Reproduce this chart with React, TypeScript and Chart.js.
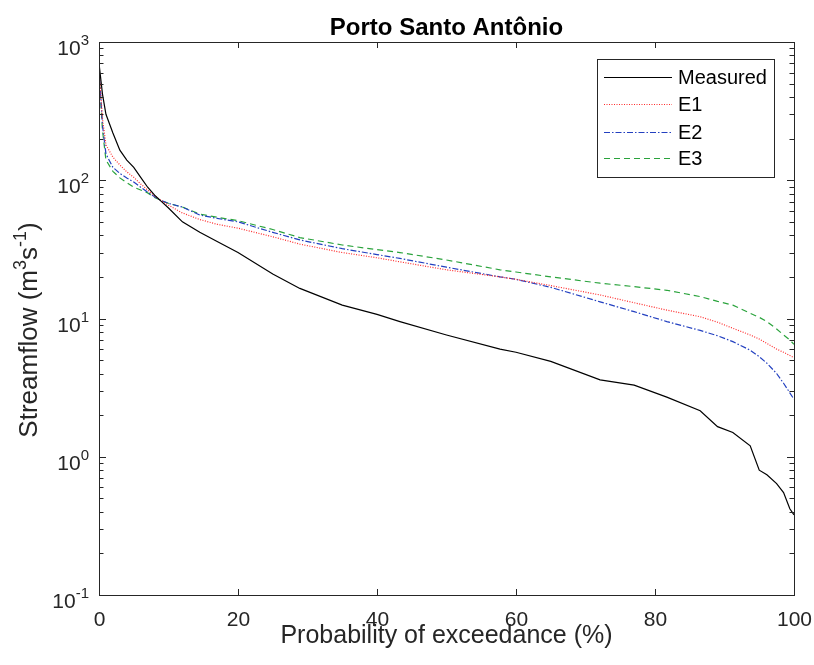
import React, { useEffect, useRef } from "react";
import { Chart, registerables } from "chart.js";

Chart.register(...registerables);

const exceedance = [0, 0.5, 1, 2, 3, 4, 5, 6, 7, 8, 9, 10, 12, 14.5, 17, 20, 25, 28.9, 35, 40, 43.3, 50, 57.7, 60, 65, 72.1, 77, 81.7, 86.5, 89, 91.2, 93.7, 95, 96.1, 97.5, 98.5, 99.4, 100];

const measured = [700, 420, 300, 220, 165, 140, 124, 105, 89, 78, 70, 63, 50, 42, 36, 30, 21, 16.5, 12.5, 10.7, 9.5, 7.6, 6.0, 5.7, 4.9, 3.6, 3.3, 2.7, 2.15, 1.65, 1.5, 1.2, 0.8, 0.74, 0.64, 0.55, 0.42, 0.38];
const e1 = [650, 280, 180, 147, 129, 115, 105, 94, 85, 77, 71, 66, 58, 52, 48, 45, 39, 34.5, 30, 27.5, 25.7, 22.5, 20, 19.2, 17.3, 14.8, 13, 11.5, 10.3, 9.4, 8.5, 7.6, 7.1, 6.6, 6.0, 5.7, 5.4, 5.2];
const e2 = [650, 250, 155, 124, 112, 104, 97, 89, 82, 76, 71, 68, 64, 56, 53, 50, 42, 37, 32, 29, 27.2, 23.5, 20, 19.2, 16.8, 13.2, 11.2, 9.5, 8.2, 7.5, 6.8, 5.9, 5.3, 4.75, 4.0, 3.4, 2.9, 2.6];
const e3 = [600, 230, 140, 116, 104, 96, 89, 85, 81, 75, 71, 68, 64, 57, 54, 51, 44, 38.5, 34, 31.5, 30, 26.5, 22.5, 21.7, 20, 18, 17, 16, 14.4, 13.3, 12.5, 10.9, 10.2, 9.5, 8.4, 7.6, 7, 6.5];

const seriesNames = ["Measured", "E1", "E2", "E3"];
const xTicks = [0, 20, 40, 60, 80, 100];
const yExponents = [-1, 0, 1, 2, 3];
const titleText = "Porto Santo Antônio";
const xTitle = "Probability of exceedance (%)";

const FONT = '"Liberation Sans", Arial, sans-serif';
const AXIS = "#262626";

const toPoints = (ys: number[]) => ys.map((v, i) => ({ x: exceedance[i], y: v }));

const decorPlugin = {
  id: "decor",
  afterDraw(chart: any) {
    const { ctx, chartArea, scales } = chart;
    const { left, right, top, bottom } = chartArea;
    const xs = scales.x;
    const ys = scales.y;
    ctx.save();
    // frame
    ctx.strokeStyle = AXIS;
    ctx.lineWidth = 1;
    ctx.strokeRect(Math.round(left) + 0.5, Math.round(top) + 0.5, Math.round(right - left), Math.round(bottom - top));

    // x ticks
    ctx.fillStyle = "#262626";
    ctx.font = `21px ${FONT}`;
    ctx.textAlign = "center";
    ctx.textBaseline = "middle";
    for (const v of xTicks) {
      const px = Math.round(xs.getPixelForValue(v)) + 0.5;
      ctx.beginPath();
      ctx.moveTo(px, bottom);
      ctx.lineTo(px, bottom - 6);
      ctx.moveTo(px, top);
      ctx.lineTo(px, top + 6);
      ctx.stroke();
      ctx.fillText(String(v), px, 620);
    }

    // y ticks (log, with minor)
    for (const e of yExponents) {
      const maxM = e === yExponents[yExponents.length - 1] ? 1 : 9;
      for (let m = 1; m <= maxM; m++) {
        const val = m * Math.pow(10, e);
        const py = Math.round(ys.getPixelForValue(val)) + 0.5;
        const len = m === 1 ? 7 : 4.5;
        ctx.beginPath();
        ctx.moveTo(left, py);
        ctx.lineTo(left + len, py);
        ctx.moveTo(right, py);
        ctx.lineTo(right - len, py);
        ctx.stroke();
      }
      const py = ys.getPixelForValue(Math.pow(10, e));
      ctx.textAlign = "left";
      ctx.textBaseline = "alphabetic";
      ctx.font = `21px ${FONT}`;
      const baseW = ctx.measureText("10").width;
      ctx.font = `15px ${FONT}`;
      const sup = String(e);
      const supW = ctx.measureText(sup).width;
      const endX = 89;
      const bx = endX - supW - baseW;
      ctx.font = `21px ${FONT}`;
      ctx.fillText("10", bx, py + 13);
      ctx.font = `15px ${FONT}`;
      ctx.fillText(sup, bx + baseW, py + 3);
    }

    // title
    ctx.fillStyle = "#000";
    ctx.font = `bold 24px ${FONT}`;
    ctx.textAlign = "center";
    ctx.textBaseline = "alphabetic";
    ctx.fillText(titleText, (left + right) / 2, 35);

    // x title
    ctx.fillStyle = "#262626";
    ctx.font = `25px ${FONT}`;
    ctx.fillText(xTitle, (left + right) / 2, 643);

    // y title with superscripts
    const segs: [string, boolean][] = [["Streamflow (m", false], ["3", true], ["s", false], ["-1", true], [")", false]];
    const big = `26px ${FONT}`;
    const small = `18px ${FONT}`;
    const widths = segs.map(([t, s]) => {
      ctx.font = s ? small : big;
      return ctx.measureText(t).width;
    });
    const total = widths.reduce((a, b) => a + b, 0);
    ctx.save();
    ctx.translate(37, 330);
    ctx.rotate(-Math.PI / 2);
    ctx.textAlign = "left";
    let cx = -total / 2;
    segs.forEach(([t, s], i) => {
      ctx.font = s ? small : big;
      ctx.fillText(t, cx, s ? -11 : 0);
      cx += widths[i];
    });
    ctx.restore();

    // legend
    const lx = 597.5, ly = 59.5, lw = 177, lh = 118;
    ctx.fillStyle = "#fff";
    ctx.fillRect(lx, ly, lw, lh);
    ctx.strokeStyle = AXIS;
    ctx.lineWidth = 1;
    ctx.setLineDash([]);
    ctx.strokeRect(lx, ly, lw, lh);
    const rows = [77, 104, 132, 158];
    chart.data.datasets.forEach((ds: any, i: number) => {
      const ry = rows[i] + 0.5;
      ctx.strokeStyle = ds.borderColor;
      ctx.lineWidth = ds.borderWidth;
      ctx.setLineDash(ds.borderDash || []);
      ctx.beginPath();
      ctx.moveTo(604, ry);
      ctx.lineTo(672, ry);
      ctx.stroke();
      ctx.setLineDash([]);
      ctx.fillStyle = "#000";
      ctx.font = `20px ${FONT}`;
      ctx.textAlign = "left";
      ctx.textBaseline = "middle";
      ctx.fillText(ds.label, 678, rows[i] + 1);
    });
    ctx.restore();
  },
};

export default function App() {
  const ref = useRef<HTMLCanvasElement | null>(null);
  useEffect(() => {
    document.body.style.margin = "0";
    const canvas = ref.current;
    if (!canvas) return;
    const chart = new Chart(canvas, {
      type: "line",
      data: {
        datasets: [
          { label: seriesNames[0], data: toPoints(measured), borderColor: "#000000", borderWidth: 1.2, pointRadius: 0, fill: false, tension: 0 },
          { label: seriesNames[1], data: toPoints(e1), borderColor: "#ff2a2a", borderWidth: 1.2, borderDash: [1, 1.5], pointRadius: 0, fill: false, tension: 0 },
          { label: seriesNames[2], data: toPoints(e2), borderColor: "#2340c0", borderWidth: 1.2, borderDash: [6, 2, 1.5, 2], pointRadius: 0, fill: false, tension: 0 },
          { label: seriesNames[3], data: toPoints(e3), borderColor: "#2aa33c", borderWidth: 1.2, borderDash: [6, 4], pointRadius: 0, fill: false, tension: 0 },
        ],
      },
      options: {
        responsive: false,
        animation: false,
        layout: { padding: { left: 99, right: 20, top: 42, bottom: 70 } },
        plugins: { legend: { display: false }, title: { display: false }, tooltip: { enabled: false } },
        scales: {
          x: { type: "linear", min: 0, max: 100, display: false },
          y: { type: "logarithmic", min: 0.1, max: 1000, display: false },
        },
      },
      plugins: [decorPlugin],
    } as any);
    return () => chart.destroy();
  }, []);
  return (
    <div style={{ position: "absolute", left: 0, top: 0, width: 814, height: 665, background: "#fff" }}>
      <canvas ref={ref} width={814} height={665} style={{ display: "block" }} />
    </div>
  );
}
